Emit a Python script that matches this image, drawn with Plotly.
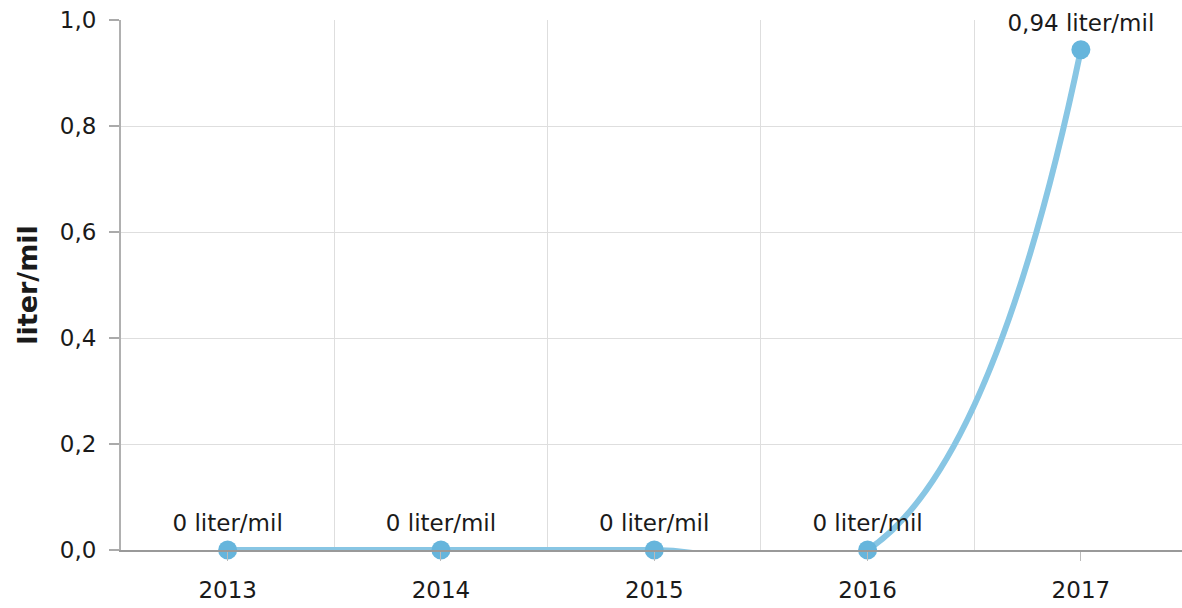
import plotly.graph_objects as go

years = ["2013", "2014", "2015", "2016", "2017"]
values = [0, 0, 0, 0, 0.944]
unit = "liter/mil"
y_ticks = [0, 0.2, 0.4, 0.6, 0.8, 1.0]

def fmt(v):
    if v == 0:
        return "0 " + unit
    return ("%.2f" % v).replace(".", ",") + " " + unit

labels = [fmt(v) for v in values]
xs = list(range(len(years)))

FONT = "DejaVu Sans, Verdana, sans-serif"
FS = 23

fig = go.Figure()
fig.add_trace(go.Scatter(
    x=xs, y=values, mode="lines",
    line=dict(shape="spline", smoothing=1.3, color="#88c6e4", width=6),
    cliponaxis=True, hoverinfo="skip", showlegend=False,
))
fig.add_trace(go.Scatter(
    x=xs, y=values, mode="markers+text",
    marker=dict(size=19, color="#66b5dc"),
    text=labels, textposition="top center",
    textfont=dict(family=FONT, size=FS, color="#1a1a1a"),
    cliponaxis=False, showlegend=False,
))

fig.update_layout(
    width=1182, height=608,
    margin=dict(l=121, r=0, t=20, b=58),
    paper_bgcolor="white", plot_bgcolor="white",
    separators=",.",
    font=dict(family=FONT, size=FS, color="#1a1a1a"),
    xaxis=dict(
        range=[-0.5, 4.474],
        tickvals=xs, ticktext=years,
        showgrid=False, zeroline=False,
        ticks="outside", ticklen=9, tickcolor="#bbbbbb", tickwidth=1,
        showline=True, linecolor="#999999", linewidth=2,
        minor=dict(tick0=0.5, dtick=1, showgrid=True, gridcolor="#dedede", gridwidth=1, ticks=""),
        tickfont=dict(size=FS),
        ticklabelstandoff=9,
    ),
    yaxis=dict(
        range=[0, 1.0],
        tickvals=y_ticks, tickformat=".1f",
        showgrid=True, gridcolor="#dedede", gridwidth=1,
        zeroline=False,
        ticks="outside", ticklen=10, tickcolor="#aaaaaa", tickwidth=2,
        showline=True, linecolor="#b0b0b0", linewidth=2,
        tickfont=dict(size=FS),
        ticklabelstandoff=8,
        title=dict(text="<b>liter/mil</b>", font=dict(size=27), standoff=14),
    ),
)

fig.write_html("out.html", config={"displayModeBar": False},
               post_script="document.body.style.margin='0';document.body.style.overflow='hidden';")
